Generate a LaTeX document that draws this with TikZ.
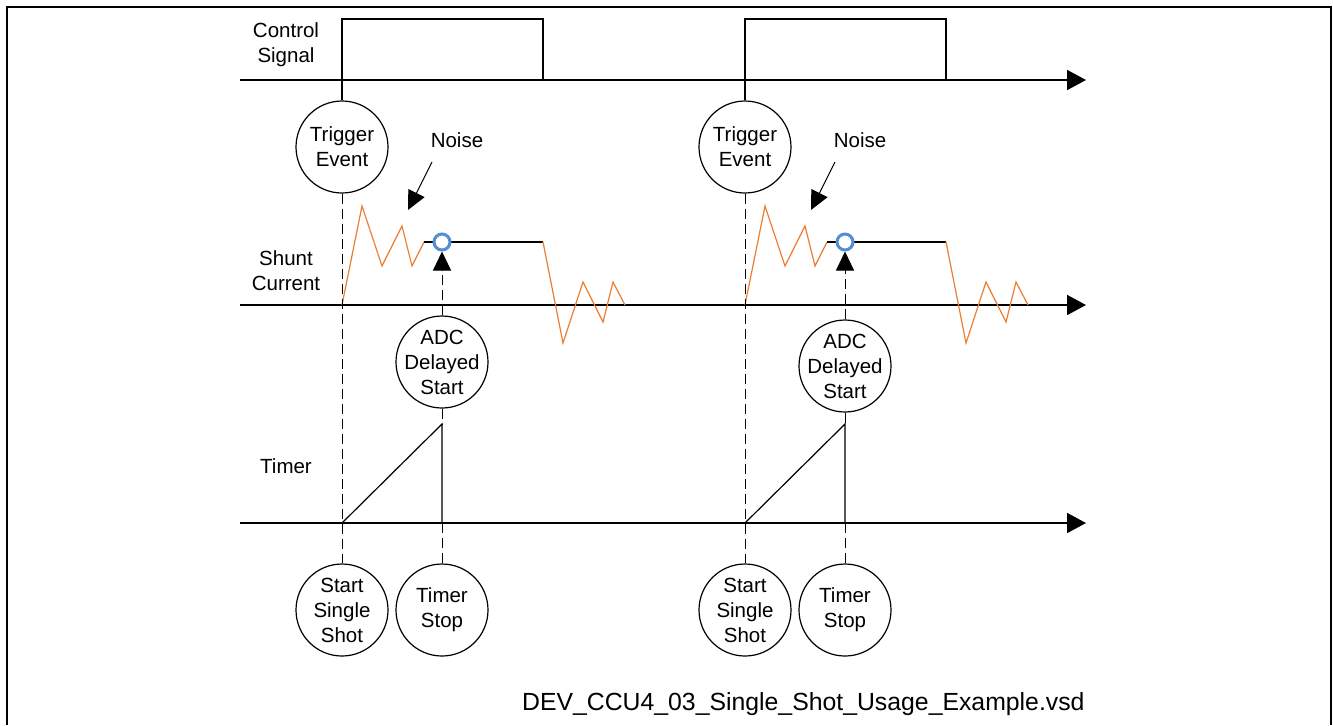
\documentclass[tikz,border=0pt]{standalone}
\usepackage{fontspec}
\setmainfont{Liberation Sans}
\usetikzlibrary{arrows.meta}
\definecolor{noiseorange}{RGB}{237,125,49}
\definecolor{sampleblue}{RGB}{84,141,212}
\begin{document}
\begin{tikzpicture}[x=0.5pt,y=-0.5pt]
  \tikzstyle{timeaxis}=[line width=0.9pt,-{Triangle[length=9.5pt,width=10pt]}]
  \tikzstyle{event}=[draw,circle,line width=0.6pt,minimum size=46pt,inner sep=0pt]
  \tikzstyle{evtext}=[align=center,inner sep=0pt,font=\fontsize{10.25}{12.5}\selectfont]
  \tikzstyle{signame}=[align=center,font=\fontsize{10.25}{12.5}\selectfont]
  \tikzstyle{pulse}=[line width=0.6pt]
  \tikzstyle{wave}=[noiseorange,line width=0.6pt,line join=miter]
  \tikzstyle{flat}=[line width=0.75pt]
  \tikzstyle{sample}=[draw=sampleblue,fill=white,circle,line width=1.5pt,minimum size=8pt,inner sep=0pt]
  \tikzstyle{guide}=[line width=0.5pt,dash pattern=on 5pt off 2.5pt]
  \tikzstyle{bigtip}=[-{Triangle[length=9.5pt,width=9pt]}]
  \useasboundingbox (0,0) rectangle (1333,725);
  % frame
  \draw[line width=1.3pt] (7,725) -- (7,7) -- (1331,7) -- (1331,725);
  % time axes
  \foreach \y/\name in {80/ctl,305/shunt,523/tmr}
  {
    \coordinate (\name0) at (240,\y);
    \coordinate (\name1) at (1086,\y);
    \draw[timeaxis] (\name0) -- (\name1);
  }
  \node[signame] (ctlname) at (286,45) {Control\\Signal};
  \node[signame] (shuntname) at (286,271) {Shunt\\Current};
  \node[signame] (tmrname) at (286,466) {Timer};
  % two single shot periods
  \foreach \dx/\n/\ay in {0/A/362,403/B/366}
  {
    % control signal
    \node[event,label={[evtext]center:Trigger\\Event}] (trig\n) at (342+\dx,147) {};
    \draw[pulse] (trig\n.north) -- (342+\dx,19) -- (543+\dx,19) -- (543+\dx,80);
    % shunt current
    \draw[wave] (342+\dx,305) -- (362+\dx,206) -- (382+\dx,266) -- (402+\dx,226)
      -- (412+\dx,266) -- (424+\dx,242);
    \draw[flat] (424+\dx,242) -- (543+\dx,242);
    \draw[wave] (543+\dx,242) -- (563+\dx,343) -- (583+\dx,282) -- (603+\dx,322)
      -- (613+\dx,282) -- (625+\dx,305);
    \node[sample] (smp\n) at (442+\dx,242) {};
    \node[signame] (noise\n) at (457+\dx,140) {Noise};
    \coordinate (nzs\n) at (432+\dx,162);
    \coordinate (nzt\n) at (408+\dx,210);
    \draw[line width=0.5pt,bigtip] (nzs\n) -- (nzt\n);
    % ADC start
    \node[event,label={[evtext]center:ADC\\Delayed\\Start}] (adc\n) at (442+\dx,\ay) {};
    \draw[guide,bigtip] (adc\n.north) -- (smp\n.south);
    % timer
    \node[event,label={[evtext]center:Start\\Single\\Shot}] (start\n) at (342+\dx,610) {};
    \node[event,label={[evtext]center:Timer\\Stop}] (stop\n) at (442+\dx,610) {};
    \coordinate (r0\n) at (342+\dx,523);
    \coordinate (top\n) at (442+\dx,424);
    \coordinate (bot\n) at (442+\dx,523);
    \draw[pulse] (r0\n) -- (top\n) -- (bot\n);
    \draw[guide] (trig\n.south) -- (start\n.north);
    \draw[guide] (adc\n.south) -- (top\n);
    \draw[guide] (bot\n) -- (stop\n.north);
  }
  \node[anchor=base east,inner sep=0pt,font=\fontsize{12.4}{14}\selectfont] (fname) at (1085,710)
    {DEV\_CCU4\_03\_Single\_Shot\_Usage\_Example.vsd};
\end{tikzpicture}
\end{document}
